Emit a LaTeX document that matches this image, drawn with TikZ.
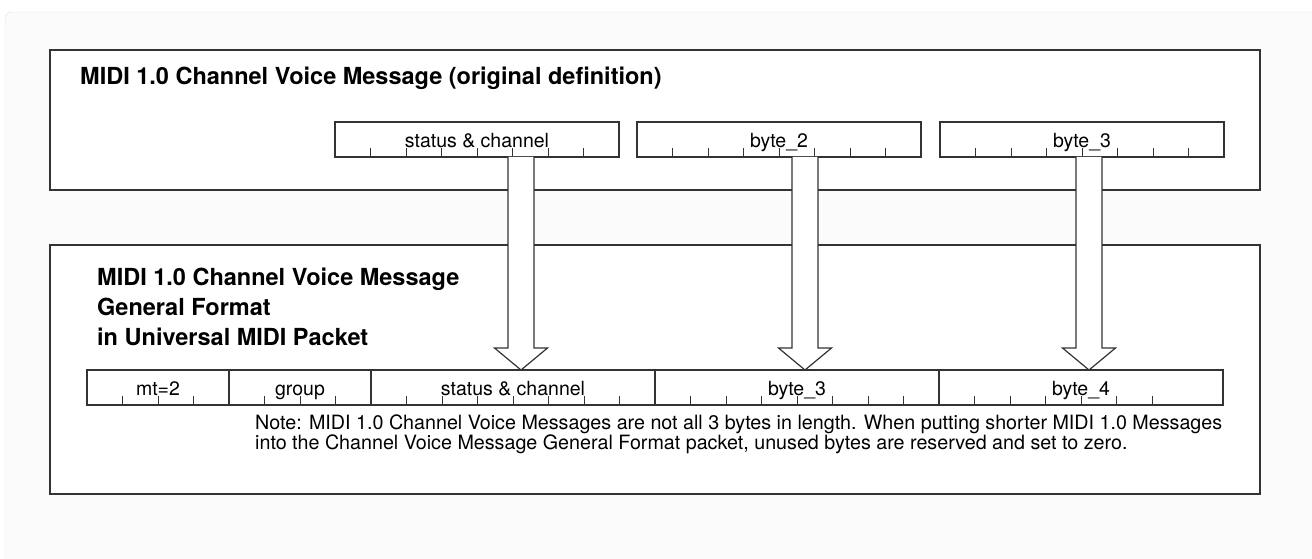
\documentclass[tikz,border=0pt]{standalone}
\usepackage{fontspec}
\setmainfont{TeX Gyre Heros}
\usetikzlibrary{positioning,calc}
\definecolor{linegray}{HTML}{333333}
\definecolor{cardgray}{HTML}{E0E0E0}
\tikzset{
  panel/.style={draw=linegray, line width=1.6pt},
  field/.style={draw=linegray, line width=1.3pt, minimum height=35pt, inner sep=0pt, outer sep=0pt,
    text height=17pt, text depth=2pt, font=\fontsize{19.5}{22}\selectfont},
  ticks/.style 2 args={path picture={\foreach \i in {1,...,#1}
    \draw[linegray, line width=1pt] ($(path picture bounding box.south west)!\i/#2!(path picture bounding box.south east)$) -- ++(0pt,9pt);}},
  title/.style={font=\bfseries\fontsize{23.5}{30}\selectfont, inner sep=0pt, align=left},
  bigarrow/.style={draw=linegray, line width=1.2pt, fill=white}
}
\newcommand\pushdown[2]{%
  \draw[bigarrow] let \p1=($(#2.north)+(8pt,0pt)$), \p2=(#1.south) in
    (\x1-13pt,\y2) -- (\x1-13pt,\y1+22pt) -- (\x1-26.5pt,\y1+22pt) -- (\x1,\y1)
    -- (\x1+26.5pt,\y1+22pt) -- (\x1+13pt,\y1+22pt) -- (\x1+13pt,\y2);}
\begin{document}
\begin{tikzpicture}[x=1pt,y=-1pt]
\clip (0,0) rectangle (1312,559);
\draw[cardgray, fill=black!1.5, rounded corners=6pt] (5,12) rectangle (1340,590);
\draw[panel, fill=white] (50,50) rectangle (1260,190);
\draw[panel, fill=white] (50,245) rectangle (1260,494);
\node[title, anchor=base west] (oldtitle) at (80,85) {MIDI 1.0 Channel Voice Message (original definition)};
\node[title, anchor=north west] (newtitle) at (97,268) {MIDI 1.0 Channel Voice Message\\General Format\\in Universal MIDI Packet};
\node[field, ticks={7}{8}, minimum width=284pt, anchor=north west] (oldstatus) at (335,122) {status \& channel};
\node[field, ticks={7}{8}, minimum width=284pt, right=18pt of oldstatus] (oldbyte2) {byte\_2};
\node[field, ticks={7}{8}, minimum width=284pt, right=19pt of oldbyte2] (oldbyte3) {byte\_3};
\node[field, ticks={3}{4}, minimum width=142pt, anchor=north west] (mt) at (87,370) {mt=2};
\node[field, ticks={3}{4}, minimum width=142pt, right=0pt of mt] (group) {group};
\node[field, ticks={7}{8}, minimum width=284pt, right=0pt of group] (newstatus) {status \& channel};
\node[field, ticks={7}{8}, minimum width=284pt, right=0pt of newstatus] (newbyte3) {byte\_3};
\node[field, ticks={6}{8}, minimum width=284pt, right=0pt of newbyte3] (newbyte4) {byte\_4};
\pushdown{oldstatus}{newstatus}
\pushdown{oldbyte2}{newbyte3}
\pushdown{oldbyte3}{newbyte4}
\node[anchor=north west, inner sep=0pt, align=left, font=\fontsize{19.7}{20}\selectfont] (note) at (255,414.5)
  {Note: MIDI 1.0 Channel Voice Messages are not all 3 bytes in length. When putting shorter MIDI 1.0 Messages\\
   into the Channel Voice Message General Format packet, unused bytes are reserved and set to zero.};
\end{tikzpicture}
\end{document}
